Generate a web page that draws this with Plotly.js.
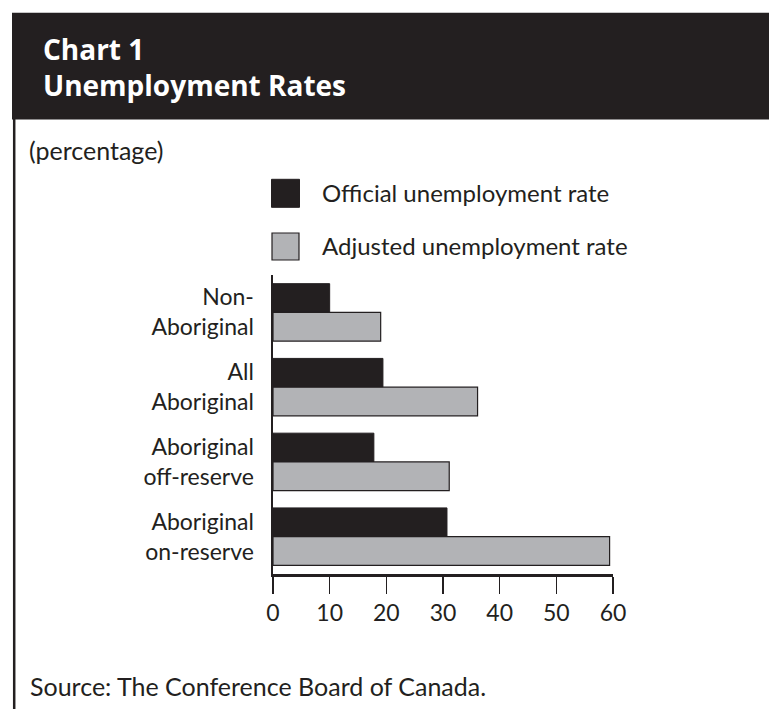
<!DOCTYPE html>
<html>
<head>
<meta charset="utf-8">
<script src="https://cdn.plot.ly/plotly-3.0.1.min.js"></script>
<style>
html,body{margin:0;padding:0;background:#fff;}
#chart{width:769px;height:709px;}
</style>
</head>
<body>
<div id="chart"></div>
<script>
// ---- data ----
var categories = ["Non-Aboriginal", "All Aboriginal", "Aboriginal off-reserve", "Aboriginal on-reserve"];
var categoryLabels = ["Non-<br>Aboriginal", "All<br>Aboriginal", "Aboriginal<br>off-reserve", "Aboriginal<br>on-reserve"];
var officialRate = [10, 19.4, 17.8, 30.7];
var adjustedRate = [19, 36.1, 31.1, 59.4];
var seriesNames = ["Official unemployment rate", "Adjusted unemployment rate"];
var xTicks = [0, 10, 20, 30, 40, 50, 60];

// ---- styling / layout ----
var W = 769, H = 709;
var L = 273, R = 613, T = 275, B = 574;
var DARK = "#231f20", GRAY = "#b2b3b6";
var FONT = "Lato, 'Open Sans', sans-serif";
var TFONT = "'Open Sans', Lato, sans-serif";
function px(x){ return (x - L) / (R - L); }
function py(y){ return (B - y) / (B - T); }

var traces = [
  {type:"bar", orientation:"h", name:seriesNames[0], y:categories, x:officialRate,
   marker:{color:DARK, line:{color:DARK, width:1}}, showlegend:false, hoverinfo:"x+y"},
  {type:"bar", orientation:"h", name:seriesNames[1], y:categories, x:adjustedRate,
   marker:{color:GRAY, line:{color:DARK, width:1.2}}, showlegend:false, hoverinfo:"x+y"}
];

var shapes = [
  // header band
  {type:"rect", xref:"paper", yref:"paper", x0:px(12), x1:px(769), y0:py(12.7), y1:py(119.5),
   fillcolor:DARK, line:{width:0}, layer:"below"},
  // left rule
  {type:"line", xref:"paper", yref:"paper", x0:px(14.2), x1:px(14.2), y0:py(119), y1:py(709),
   line:{color:DARK, width:2.5}},
  // legend swatches
  {type:"rect", xref:"paper", yref:"paper", x0:px(271.5), x1:px(299.5), y0:py(179.3), y1:py(207.3),
   fillcolor:DARK, line:{color:DARK, width:1}},
  {type:"rect", xref:"paper", yref:"paper", x0:px(272), x1:px(299), y0:py(233), y1:py(260),
   fillcolor:GRAY, line:{color:DARK, width:1.2}}
];

var annotations = [
  {text:"<b>Chart 1</b><br><b>Unemployment Rates</b>", xref:"paper", yref:"paper", x:px(41), y:py(67),
   xanchor:"left", yanchor:"middle", align:"left",
   showarrow:false, font:{family:TFONT, size:28, color:"#ffffff"}},
  {text:"(percentage)", xref:"paper", yref:"paper", x:px(27), y:py(150), xanchor:"left", yanchor:"middle",
   showarrow:false, font:{family:FONT, size:25, color:DARK}},
  {text:seriesNames[0], xref:"paper", yref:"paper", x:px(320), y:py(192), xanchor:"left", yanchor:"middle",
   showarrow:false, font:{family:FONT, size:24, color:DARK}},
  {text:seriesNames[1], xref:"paper", yref:"paper", x:px(320), y:py(245), xanchor:"left", yanchor:"middle",
   showarrow:false, font:{family:FONT, size:24, color:DARK}},
  {text:"Source: The Conference Board of Canada.", xref:"paper", yref:"paper", x:px(28), y:py(686), xanchor:"left", yanchor:"middle",
   showarrow:false, font:{family:FONT, size:25, color:DARK}}
];

var layout = {
  width:W, height:H,
  margin:{l:L, r:W-R, t:T, b:H-B, pad:0},
  paper_bgcolor:"#ffffff", plot_bgcolor:"#ffffff",
  font:{family:FONT, color:DARK},
  barmode:"group", bargap:0.232, bargroupgap:0,
  showlegend:false,
  xaxis:{range:[0,60], tickvals:xTicks, ticktext:xTicks.map(String),
    showgrid:false, zeroline:false, showline:true, linecolor:DARK, linewidth:2.5,
    ticks:"outside", ticklen:17, tickwidth:1.2, tickcolor:DARK,
    tickfont:{family:FONT, size:23, color:DARK}, fixedrange:true},
  yaxis:{type:"category", categoryorder:"array", categoryarray:categories,
    tickvals:categories, ticktext:categoryLabels, autorange:"reversed",
    showgrid:false, zeroline:false, showline:true, linecolor:DARK, linewidth:2.5,
    ticks:"", ticklabelstandoff:12,
    tickfont:{family:FONT, size:23, color:DARK}, fixedrange:true},
  shapes:shapes, annotations:annotations
};

Plotly.newPlot("chart", traces, layout, {displayModeBar:false, staticPlot:true});
</script>
</body>
</html>
